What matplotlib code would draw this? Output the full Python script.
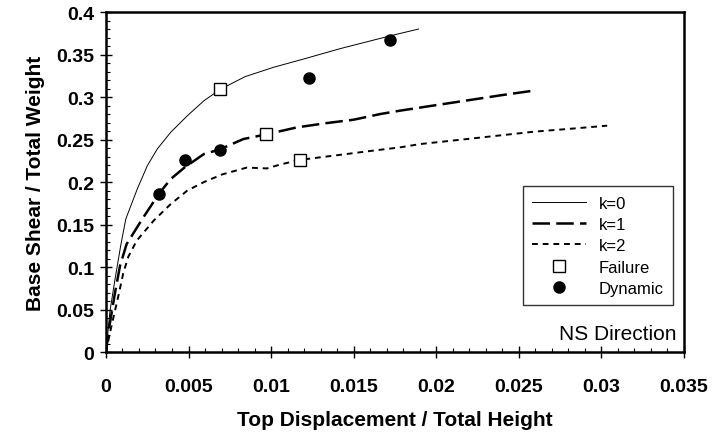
import matplotlib
matplotlib.use("Agg")
import matplotlib.pyplot as plt
from matplotlib.ticker import MultipleLocator

plt.rcParams['font.family'] = ['Liberation Sans', 'DejaVu Sans']

# pushover curves
k0_x = [0, 0.00024, 0.00055, 0.00089, 0.0012, 0.0019, 0.0025, 0.00311, 0.00392,
        0.00493, 0.00594, 0.00692, 0.00843, 0.01015, 0.01197, 0.0142, 0.01581,
        0.01743, 0.01894]
k0_y = [0, 0.048, 0.086, 0.125, 0.1565, 0.192, 0.219, 0.239, 0.2585,
        0.278, 0.2957, 0.309, 0.324, 0.335, 0.3447, 0.357, 0.365,
        0.373, 0.38]

k1_x = [0, 0.00014, 0.00055, 0.00085, 0.00125, 0.0022, 0.0032, 0.00392,
        0.00477, 0.00594, 0.00685, 0.00833, 0.00969, 0.01157, 0.01339, 0.015,
        0.01662, 0.01783, 0.0195, 0.02188, 0.0239, 0.02572]
k1_y = [0, 0.0226, 0.0702, 0.1015, 0.127, 0.1565, 0.186, 0.2035,
        0.2173, 0.233, 0.238, 0.2506, 0.256, 0.2643, 0.2694, 0.2733,
        0.28, 0.284, 0.289, 0.296, 0.302, 0.307]

k2_x = [0, 0.00024, 0.00075, 0.00105, 0.00135, 0.00186, 0.00291, 0.00392, 0.00493,
        0.00594, 0.00705, 0.00853, 0.00975, 0.01056, 0.01173, 0.0146, 0.0162,
        0.01783, 0.01905, 0.02188, 0.02592, 0.02835, 0.03037]
k2_y = [0, 0.0226, 0.066, 0.093, 0.112, 0.131, 0.155, 0.174, 0.19,
        0.2, 0.209, 0.217, 0.216, 0.2206, 0.226, 0.233, 0.237,
        0.2408, 0.2447, 0.2506, 0.2592, 0.263, 0.2663]

failure_x = [0.00692, 0.00969, 0.01173]
failure_y = [0.309, 0.2565, 0.2259]

dynamic_x = [0.0032, 0.00481, 0.00693, 0.01231, 0.01721]
dynamic_y = [0.186, 0.226, 0.2376, 0.3227, 0.3667]

fig = plt.figure(figsize=(7.22, 4.35), dpi=100)
ax = fig.add_axes([0.1468, 0.1885, 0.8, 0.7815])

ax.plot(k0_x, k0_y, color='black', lw=0.7, label='k=0')
ax.plot(k1_x, k1_y, color='black', lw=1.8, dashes=(7, 2.5), label='k=1')
ax.plot(k2_x, k2_y, color='black', lw=1.4, dashes=(3, 2.5), label='k=2')
ax.plot(failure_x, failure_y, ls='none', marker='s', ms=8, mfc='white',
        mec='black', mew=1.0, label='Failure')
ax.plot(dynamic_x, dynamic_y, ls='none', marker='o', ms=8, color='black',
        label='Dynamic')

ax.set_xlim(0, 0.035)
ax.set_ylim(0, 0.4)
ax.xaxis.set_major_locator(MultipleLocator(0.005))
ax.xaxis.set_minor_locator(MultipleLocator(0.001))
ax.yaxis.set_major_locator(MultipleLocator(0.05))
ax.yaxis.set_minor_locator(MultipleLocator(0.01))

def fmt(v, pos):
    if abs(v) < 1e-12:
        return '0'
    return ('%.3f' % v).rstrip('0')

ax.xaxis.set_major_formatter(plt.FuncFormatter(fmt))
ax.yaxis.set_major_formatter(plt.FuncFormatter(fmt))

ax.tick_params(which='major', direction='inout', length=9, width=1.0,
               labelsize=14, pad=2)
ax.tick_params(axis='x', which='major', pad=14)
ax.tick_params(axis='y', which='major', pad=4)
ax.tick_params(which='minor', direction='in', length=3, width=0.8)
for lab in ax.get_xticklabels() + ax.get_yticklabels():
    lab.set_fontweight('bold')

for s in ax.spines.values():
    s.set_linewidth(1.8)

ax.set_xlabel('Top Displacement / Total Height', fontsize=15, fontweight='bold',
              labelpad=11)
ax.set_ylabel('Base Shear / Total Weight', fontsize=15, fontweight='bold',
              labelpad=8)

leg = ax.legend(loc='upper right', bbox_to_anchor=(0.982, 0.487), fontsize=12,
                frameon=True, fancybox=False, edgecolor='black',
                handlelength=3.2, labelspacing=0.38, borderpad=0.55,
                borderaxespad=0)
leg.get_frame().set_linewidth(1.0)

ax.text(0.988, 0.055, 'NS Direction', transform=ax.transAxes, ha='right',
        va='center', fontsize=15)

fig.savefig('out.png', dpi=100)
